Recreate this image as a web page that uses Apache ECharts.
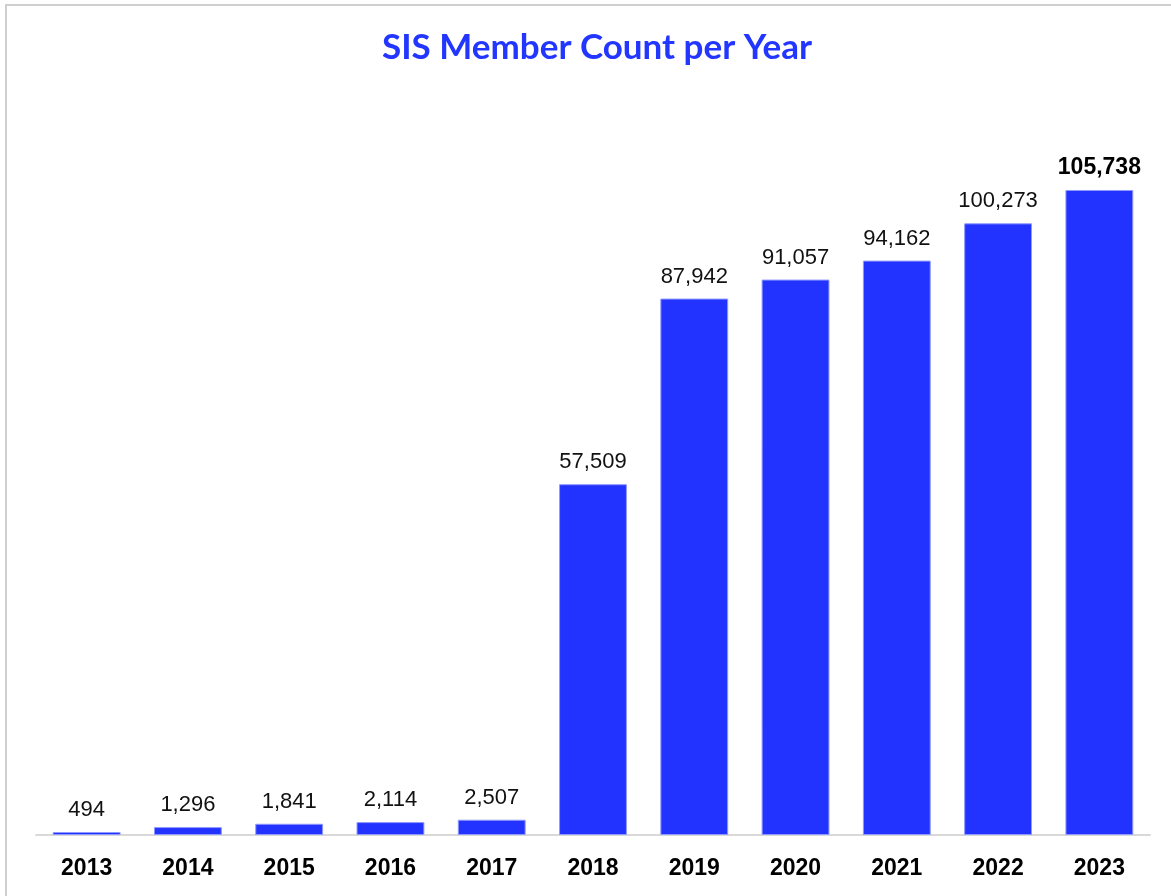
<!DOCTYPE html>
<html>
<head>
<meta charset="utf-8">
<script src="https://cdn.jsdelivr.net/npm/echarts@6/dist/echarts.min.js"></script>
<style>
  html, body { margin: 0; padding: 0; background: #fff; }
  #frame { position: absolute; left: 5px; top: 4px; width: 1166px; height: 892px;
           border-top: 2px solid #cfcfcf; border-left: 2px solid #cfcfcf; }
  #chart { position: absolute; left: 0; top: 0; width: 1171px; height: 896px; }
</style>
</head>
<body>
<div id="frame"></div>
<div id="chart"></div>
<script>
const years = ["2013", "2014", "2015", "2016", "2017", "2018", "2019", "2020", "2021", "2022", "2023"];
const members = [494, 1296, 1841, 2114, 2507, 57509, 87942, 91057, 94162, 100273, 105738];

let chart = echarts.init(document.getElementById("chart"));
chart.setOption({
  animation: false,
  title: {
    text: "SIS Member Count per Year",
    left: 592,
    textAlign: "center",
    top: 25,
    textStyle: {
      color: "#2236ff",
      fontSize: 35,
      fontWeight: "bold",
      fontFamily: "Lato"
    }
  },
  grid: {
    left: 36,
    right: 21,
    top: 103,
    bottom: 61
  },
  xAxis: {
    type: "category",
    data: years,
    axisLine: { lineStyle: { color: "#d9d9d9", width: 2 } },
    axisTick: { show: false },
    axisLabel: {
      color: "#000",
      fontSize: 23,
      fontWeight: "bold",
      fontFamily: "Liberation Sans",
      margin: 22
    }
  },
  yAxis: {
    type: "value",
    min: 0,
    max: 120000,
    show: false,
    splitLine: { show: false }
  },
  series: [
    {
      type: "bar",
      data: members.map((v, i) => {
        if (i === members.length - 1) {
          // last year is highlighted in bold
          return { value: v, label: { fontWeight: "bold", fontSize: 23, color: "#000" } };
        }
        return v;
      }),
      barWidth: "67%",
      itemStyle: {
        color: "#2233ff",
        borderColor: "#8f99ff",
        borderWidth: 1
      },
      label: {
        show: true,
        position: "top",
        distance: 11,
        color: "#111",
        fontSize: 22,
        fontFamily: "Liberation Sans",
        formatter: p => p.value.toLocaleString("en-US")
      }
    }
  ]
});
</script>
</body>
</html>
